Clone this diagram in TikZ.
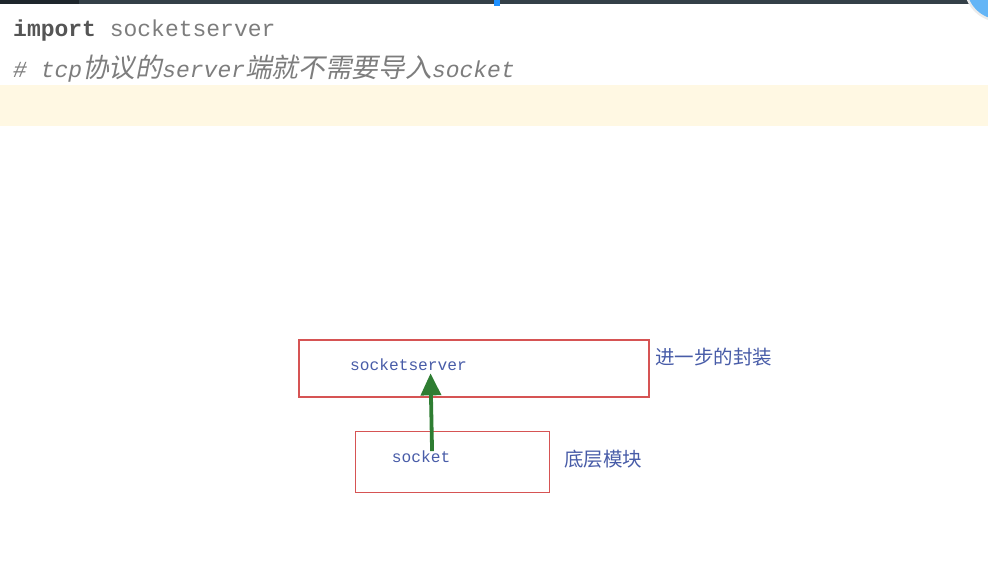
\documentclass[tikz,border=0pt]{standalone}
\usepackage{fontspec}
\usepackage{xcolor}
\usetikzlibrary{arrows.meta}
\setmonofont{Liberation Mono}
\newfontfamily\cjk{Noto Sans CJK SC}
\newfontfamily\cjkit[AutoFakeSlant=0.2]{Noto Sans CJK SC}
\newcommand{\cjkslant}[1]{{\cjkit\fontsize{26.7}{28}\selectfont #1}}
\definecolor{barGray}{RGB}{52,64,72}
\definecolor{barDark}{RGB}{30,38,44}
\definecolor{markBlue}{RGB}{30,144,255}
\definecolor{ballBlue}{RGB}{100,181,246}
\definecolor{lineYellow}{RGB}{255,248,227}
\definecolor{keyGray}{RGB}{85,85,85}
\definecolor{codeGray}{RGB}{125,125,125}
\definecolor{boxRed}{RGB}{214,84,84}
\definecolor{textBlue}{RGB}{72,92,168}
\definecolor{arrowGreen}{RGB}{46,125,50}

\begin{document}
\begin{tikzpicture}[x=1pt, y=-1pt, >=Stealth,
    codeline/.style={anchor=base west, inner sep=0pt, font=\ttfamily\fontsize{23}{27}\selectfont},
    layerbox/.style={draw=boxRed, line width=1.3pt, inner sep=0pt, anchor=north west},
    modname/.style={anchor=base west, inner sep=0pt, text=textBlue, font=\ttfamily\fontsize{16.2}{18}\selectfont},
    note/.style={anchor=west, inner sep=0pt, text=textBlue, font=\cjk\fontsize{19.5}{21}\selectfont},
    wrap/.style={->, draw=arrowGreen, line width=3.8pt, >={Triangle[width=20pt,length=22pt]}}]
    \clip (0,0) rectangle (988,565);
    \fill [white] (0,0) rectangle (988,565);
    % 编辑器顶部
    \fill [barGray] (0,0) rectangle (988,3.5);
    \fill [barDark] (0,0) rectangle (79,3.5);
    \fill [markBlue] (494,0) rectangle (500,6);
    \fill [black!8] (1000,-14) circle (36pt);
    \fill [ballBlue] (1000,-14) circle (33.5pt);
    % 代码
    \fill [lineYellow] (0,85) rectangle (988,126);
    \node [codeline] (imp) at (13,36) {\textcolor{keyGray}{\bfseries import} \textcolor{codeGray}{socketserver}};
    \node [codeline, text=codeGray] (cmt) at (13,77) {\itshape\# tcp\cjkslant{协议的}server\cjkslant{端就不需要导入}socket};
    % 两层模块
    \node [layerbox, minimum width=350pt, minimum height=57pt] (top) at (298.3,339.3) {};
    \node [layerbox, minimum width=194pt, minimum height=61pt] (bottom) at (355,431) {};
    \node [modname] (srv) at (350,370) {socketserver};
    \node [modname] (sock) at (391.7,462) {socket};
    \node [note] (upper) at (655,357) {进一步的封装};
    \node [note] (lower) at (564,459) {底层模块};
    \draw [wrap] ([xshift=11pt,yshift=-1pt]sock.north) -- ([xshift=22pt,yshift=-3pt]srv.south);
\end{tikzpicture}
\end{document}
